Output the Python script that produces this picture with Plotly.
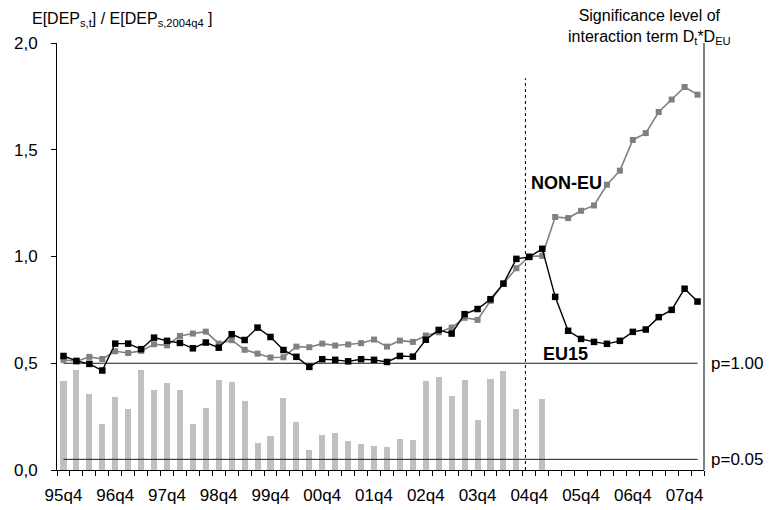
import plotly.graph_objects as go

# ---------------- data ----------------
quarters = [
    "95q4",
    "96q1", "96q2", "96q3", "96q4",
    "97q1", "97q2", "97q3", "97q4",
    "98q1", "98q2", "98q3", "98q4",
    "99q1", "99q2", "99q3", "99q4",
    "00q1", "00q2", "00q3", "00q4",
    "01q1", "01q2", "01q3", "01q4",
    "02q1", "02q2", "02q3", "02q4",
    "03q1", "03q2", "03q3", "03q4",
    "04q1", "04q2", "04q3", "04q4",
    "05q1", "05q2", "05q3", "05q4",
    "06q1", "06q2", "06q3", "06q4",
    "07q1", "07q2", "07q3", "07q4",
    "08q1",
]

eu15 = [0.534, 0.511, 0.497, 0.466, 0.592, 0.592, 0.566, 0.620, 0.605, 0.595,
        0.570, 0.597, 0.573, 0.636, 0.609, 0.667, 0.623, 0.562, 0.530, 0.483,
        0.519, 0.516, 0.509, 0.519, 0.516, 0.506, 0.534, 0.531, 0.610, 0.656,
        0.639, 0.730, 0.754, 0.800, 0.873, 0.989, 0.998, 1.036, 0.811, 0.652,
        0.614, 0.600, 0.591, 0.605, 0.647, 0.658, 0.716, 0.750, 0.849, 0.789]

non_eu = [0.516, 0.508, 0.530, 0.520, 0.556, 0.548, 0.558, 0.589, 0.584, 0.628,
          0.639, 0.648, 0.592, 0.608, 0.563, 0.545, 0.527, 0.528, 0.578, 0.575,
          0.592, 0.583, 0.588, 0.594, 0.611, 0.578, 0.606, 0.600, 0.630, 0.645,
          0.667, 0.713, 0.703, 0.792, 0.873, 0.945, 1.000, 1.003, 1.185, 1.180,
          1.214, 1.239, 1.336, 1.402, 1.546, 1.578, 1.677, 1.735, 1.794, 1.758]

# significance bars (drawn in left-axis units)
signif = [0.419, 0.470, 0.355, 0.216, 0.342, 0.286, 0.469, 0.375, 0.408, 0.375,
          0.216, 0.289, 0.420, 0.413, 0.325, 0.125, 0.161, 0.339, 0.227, 0.095,
          0.164, 0.172, 0.136, 0.123, 0.114, 0.109, 0.145, 0.141, 0.419, 0.437,
          0.347, 0.422, 0.233, 0.427, 0.463, 0.287, None, 0.331, None, None,
          None, None, None, None, None, None, None, None, None, None]

p_levels = [0.5, 0.05]
p_labels = ["p=1.00", "p=0.05"]

y_ticks = [0.0, 0.5, 1.0, 1.5, 2.0]
y_ticktext = ["0,0", "0,5", "1,0", "1,5", "2,0"]

label_every = 4
break_pos = 35.7      # position of the dashed vertical marker (04q4)
break_top = 1.835

# ---------------- layout geometry ----------------
W, H = 769, 510
ML, MR, MT, MB = 57, 65, 43, 40
PW, PH = W - ML - MR, H - MT - MB


def px(xp):
    return (xp - ML) / PW


def py(yp):
    return (H - MB - yp) / PH


FONT = "Liberation Sans, Arial, sans-serif"
x = list(range(len(quarters)))

fig = go.Figure()

fig.add_trace(go.Bar(
    x=x, y=signif, width=0.47,
    marker=dict(color="#c0c0c0", line=dict(width=0)),
    hoverinfo="skip", showlegend=False,
))

for lvl in p_levels:
    fig.add_trace(go.Scatter(
        x=[x[0], x[-1]], y=[lvl, lvl], mode="lines",
        line=dict(color="#1a1a1a", width=1),
        hoverinfo="skip", showlegend=False,
    ))

fig.add_trace(go.Scatter(
    x=x, y=non_eu, mode="lines+markers", name="NON-EU",
    line=dict(color="#808080", width=1.6),
    marker=dict(symbol="square", size=6, color="#808080"),
    showlegend=False,
))
fig.add_trace(go.Scatter(
    x=x, y=eu15, mode="lines+markers", name="EU15",
    line=dict(color="#000000", width=1.4),
    marker=dict(symbol="square", size=6.5, color="#000000"),
    showlegend=False,
))

annotations = [
    dict(text="E[DEP<sub>s,t</sub>] / E[DEP<sub>s,2004q4</sub> ]",
         xref="paper", yref="paper", x=px(122), y=py(20),
         xanchor="center", yanchor="middle", showarrow=False,
         font=dict(family=FONT, size=16, color="#000")),
    dict(text="Significance level of<br>interaction term D<sub>t</sub>*D<sub>EU</sub>",
         xref="paper", yref="paper", x=px(649), y=py(27),
         xanchor="center", yanchor="middle", showarrow=False, align="center",
         font=dict(family=FONT, size=16, color="#000")),
    dict(text="<b>NON-EU</b>", xref="paper", yref="paper", x=px(566), y=py(183),
         xanchor="center", yanchor="middle", showarrow=False,
         font=dict(family=FONT, size=18, color="#000")),
    dict(text="<b>EU15</b>", xref="paper", yref="paper", x=px(565), y=py(354),
         xanchor="center", yanchor="middle", showarrow=False,
         font=dict(family=FONT, size=18, color="#000")),
]
for lvl, lab in zip(p_levels, p_labels):
    annotations.append(dict(
        text=lab, xref="paper", yref="y", x=px(736.5), y=lvl,
        xanchor="center", yanchor="middle", showarrow=False,
        font=dict(family=FONT, size=17, color="#000")))

shapes = [
    dict(type="line", xref="x", yref="y", x0=break_pos, x1=break_pos,
         y0=0, y1=break_top, line=dict(color="#000", width=1, dash="3px,3px")),
    dict(type="line", xref="paper", yref="y", x0=1, x1=1, y0=0, y1=2,
         line=dict(color="#000", width=1)),
]

fig.update_layout(
    width=W, height=H,
    margin=dict(l=ML, r=MR, t=MT, b=MB, autoexpand=False),
    paper_bgcolor="white", plot_bgcolor="white",
    font=dict(family=FONT, size=17, color="#000"),
    bargap=0, barmode="overlay",
    annotations=annotations, shapes=shapes,
    xaxis=dict(
        range=[-0.5, len(quarters) - 0.5],
        tickvals=x[::label_every], ticktext=quarters[::label_every],
        ticks="", showgrid=False, zeroline=False, automargin=False,
        showline=True, linecolor="#000", linewidth=1,
        tickfont=dict(family=FONT, size=17, color="#000"),
        ticklabelstandoff=10,
        minor=dict(tick0=-0.5, dtick=1, ticks="outside", ticklen=5,
                   tickcolor="#000", tickwidth=1, showgrid=False),
    ),
    yaxis=dict(
        range=[0, 2], tickvals=y_ticks, ticktext=y_ticktext,
        ticks="outside", ticklen=5, tickcolor="#000",
        showgrid=False, zeroline=False, automargin=False,
        showline=True, linecolor="#000", linewidth=1,
        tickfont=dict(family=FONT, size=17, color="#000"),
        ticklabelstandoff=10,
    ),
)

fig.write_html(
    "out.html",
    config={"displayModeBar": False},
    post_script="document.body.style.margin='0';"
                "document.body.style.padding='0';"
                "document.body.style.overflow='hidden';",
)
